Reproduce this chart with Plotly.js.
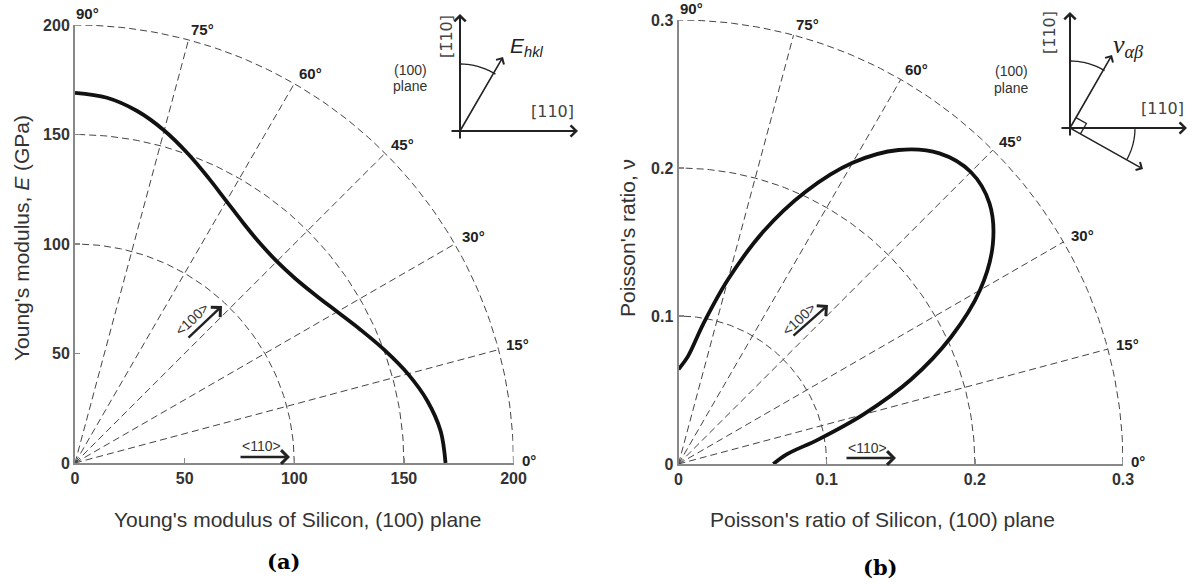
<!DOCTYPE html>
<html><head><meta charset="utf-8">
<script src="https://cdn.plot.ly/plotly-3.0.1.min.js"></script>
<style>html,body{margin:0;padding:0;background:#fff}</style>
</head><body><div id="chart" style="width:1190px;height:585px"></div>
<script>
// ---- data (polar: angle from [110], radius) ----
const angleDeg = [0,5,10,15,20,25,30,35,40,45,50,55,60,65,70,75,80,85,90];
const youngModulusGPa = [169,167.4,163.2,157.2,150.4,143.8,138.1,133.8,131.1,130.2,131.1,133.8,138.1,143.8,150.4,157.2,163.2,167.4,169];
const poissonRatio = [0.064,0.073,0.096,0.129,0.167,0.203,0.235,0.259,0.274,0.279,0.274,0.259,0.235,0.203,0.167,0.129,0.096,0.073,0.064];

const youngTicks = [0,50,100,150,200];
const poissonTicks = [0,0.1,0.2,0.3];
const youngTickText = ['0','50','100','150','200'];
const poissonTickText = ['0','0.1','0.2','0.3'];
const youngArcRadii = [100,150,200];
const poissonArcRadii = [0.1,0.2,0.3];
const gridAngleDeg = [15,30,45,60,75];
const angleLabelDeg = [0,15,30,45,60,75,90];

const W = 1190, H = 585;
const px = x => x / W;
const py = y => 1 - y / H;
const rad = d => d * Math.PI / 180;

function polarGrid(arcs, rmax, xa, ya) {
  const xs = [], ys = [];
  arcs.forEach(r => {
    for (let a = 0; a <= 90; a += 1) { xs.push(r*Math.cos(rad(a))); ys.push(r*Math.sin(rad(a))); }
    xs.push(null); ys.push(null);
  });
  gridAngleDeg.forEach(a => {
    xs.push(0, rmax*Math.cos(rad(a)), null); ys.push(0, rmax*Math.sin(rad(a)), null);
  });
  return {type:'scatter', mode:'lines', x:xs, y:ys, xaxis:xa, yaxis:ya, hoverinfo:'skip',
    line:{color:'#444', width:1, dash:'7px,4px'}, showlegend:false};
}
function polarCurve(r, xa, ya) {
  return {type:'scatter', mode:'lines', xaxis:xa, yaxis:ya, showlegend:false,
    x: r.map((v,i)=>v*Math.cos(rad(angleDeg[i]))),
    y: r.map((v,i)=>v*Math.sin(rad(angleDeg[i]))),
    line:{color:'#111', width:3.8, shape:'spline', smoothing:1}};
}

const data = [
  polarGrid(youngArcRadii, 200, 'x', 'y'),
  polarCurve(youngModulusGPa, 'x', 'y'),
  polarGrid(poissonArcRadii, 0.3, 'x2', 'y2'),
  polarCurve(poissonRatio, 'x2', 'y2')
];

const boldFam = 'Liberation Sans, Arial, sans-serif';
const tickFont = {family:boldFam, size:16, weight:700, color:'#333'};
function axis(dom, range, tv, tt, anchor) {
  return {domain:dom, range:range, tickvals:tv, ticktext:tt.map(t=>'<b>'+t+'</b>'), anchor:anchor,
    ticks:'inside', ticklen:5, tickcolor:'#888', tickwidth:1.5,
    showline:true, linecolor:'#888', linewidth:2, showgrid:false, zeroline:false,
    tickfont:tickFont, fixedrange:true, automargin:false};
}

const annotations = [];
function angleLabels(R, xr, yr) {
  angleLabelDeg.forEach(a => {
    annotations.push({xref:xr, yref:yr, x:R*Math.cos(rad(a)), y:R*Math.sin(rad(a)),
      text:'<b>'+a+'°</b>', showarrow:false, xanchor:'left', yanchor:'middle',
      xshift: 7*Math.cos(rad(a)) - 1, yshift: 3 + 8*Math.sin(rad(a)),
      font:{family:boldFam, size:15, color:'#222'}});
  });
}
angleLabels(200, 'x', 'y');
angleLabels(0.3, 'x2', 'y2');

function arrow(hx, hy, tx, ty, w, color) {
  annotations.push({xref:'paper', yref:'paper', x:px(hx), y:py(hy), ax:tx-hx, ay:ty-hy,
    axref:'pixel', ayref:'pixel', text:'', showarrow:true, arrowhead:4, arrowsize:1.1,
    arrowwidth:w, arrowcolor:color||'#222'});
}
function label(x, y, text, size, opts) {
  annotations.push(Object.assign({xref:'paper', yref:'paper', x:px(x), y:py(y), text:text,
    showarrow:false, xanchor:'center', yanchor:'middle',
    font:{family:'Liberation Sans, Arial, sans-serif', size:size, color:'#333'}}, opts||{}));
}

// axis titles
const titleFont = {family:'Liberation Sans, Arial, sans-serif', size:21, color:'#333'};
label(297, 519, "Young's modulus of Silicon, (100) plane", 21, {font:titleFont});
label(882, 519, "Poisson's ratio of Silicon, (100) plane", 21, {font:titleFont});
label(21, 238, "Young's modulus, <i>E</i> (GPa)", 21, {font:titleFont, textangle:-90});
label(627, 238, "Poisson's ratio, ν", 21, {font:titleFont, textangle:-90});

// left inset
const dirFont = {family:'DejaVu Sans, Liberation Sans, Arial', size:16, color:'#444'};
arrow(460, 14, 460, 140, 2);
arrow(578, 131, 450, 131, 2);
arrow(503, 57, 460, 131, 1.6);
label(552, 112, '[110]', 17, {font:dirFont});
label(446, 37, '[1\u030410]', 16, {textangle:-90, font:dirFont});
label(527, 47, '<i>E</i><sub><i>hkl</i></sub>', 21, {font:{family:'Liberation Sans, Arial', size:21, color:'#222'}});
label(410, 70, '(100)', 14);
label(410, 86, 'plane', 14);

// right inset
arrow(1070, 12, 1070, 137, 2);
arrow(1187, 128, 1060, 128, 2);
arrow(1112, 55, 1070, 128, 1.6);
arrow(1143, 169, 1070, 128, 1.6);
label(1162, 108, '[110]', 17, {font:dirFont});
label(1049, 33, '[1\u030410]', 16, {textangle:-90, font:dirFont});
label(1128, 46, '<i>ν</i><sub><i>αβ</i></sub>', 26, {font:{family:'Liberation Serif, Times New Roman, serif', size:26, color:'#222'}});
label(1011, 71, '(100)', 14);
label(1011, 88, 'plane', 14);

// direction arrows inside the plots
arrow(222, 306, 187, 339, 2.4, '#222');
label(192, 319, '&lt;100&gt;', 14, {textangle:-43});
arrow(290, 457, 239, 457, 2.4, '#222');
label(261, 446, '&lt;110&gt;', 14);
arrow(828, 305, 792, 337, 2.4, '#222');
label(799, 319, '&lt;100&gt;', 14, {textangle:-43});
arrow(896, 458, 845, 458, 2.4, '#222');
label(867, 448, '&lt;110&gt;', 14);

// captions
const capFont = {family:'DejaVu Serif, Liberation Serif, serif', size:21, weight:'bold', color:'#000'};
label(283, 561, '<b>(a)</b>', 21, {font:capFont});
label(880, 567, '<b>(b)</b>', 21, {font:capFont});

// inset arcs / right-angle mark as shapes (pixel -> paper)
function arcPath(cx, cy, r, a0, a1) {
  let p = '';
  const n = 24;
  for (let i = 0; i <= n; i++) {
    const a = rad(a0 + (a1-a0)*i/n);
    const x = cx + r*Math.cos(a), y = cy - r*Math.sin(a);
    p += (i ? ' L ' : 'M ') + px(x).toFixed(5) + ',' + py(y).toFixed(5);
  }
  return p;
}
function polyPath(pts) {
  return pts.map((p,i)=>(i?' L ':'M ')+px(p[0]).toFixed(5)+','+py(p[1]).toFixed(5)).join('');
}
const shapes = [
  {type:'path', xref:'paper', yref:'paper', path:arcPath(460,131,67,90,58), line:{color:'#222', width:1.3}},
  {type:'path', xref:'paper', yref:'paper', path:arcPath(1070,128,67,90,59), line:{color:'#222', width:1.3}},
  {type:'path', xref:'paper', yref:'paper', path:arcPath(1070,128,65,-1,-29), line:{color:'#222', width:1.3}},
  {type:'path', xref:'paper', yref:'paper', path:polyPath([[1070+6,128-10.4],[1070+6+10.4,128-10.4+5.9],[1070+10.4,128+5.9]]), line:{color:'#222', width:1.3}}
];

const layout = {
  width:W, height:H, margin:{l:0,r:0,t:0,b:0}, paper_bgcolor:'#fff', plot_bgcolor:'rgba(0,0,0,0)',
  showlegend:false, hovermode:false,
  xaxis: axis([px(75), px(513.5)], [0,200], youngTicks, youngTickText, 'y'),
  yaxis: axis([py(463), py(25)], [0,200], youngTicks, youngTickText, 'x'),
  xaxis2: axis([px(678.5), px(1123)], [0,0.3], poissonTicks, poissonTickText, 'y2'),
  yaxis2: axis([py(464), py(20)], [0,0.3], poissonTicks, poissonTickText, 'x2'),
  annotations: annotations,
  shapes: shapes
};

Plotly.newPlot('chart', data, layout, {staticPlot:true, displayModeBar:false});
</script>
</body></html>
